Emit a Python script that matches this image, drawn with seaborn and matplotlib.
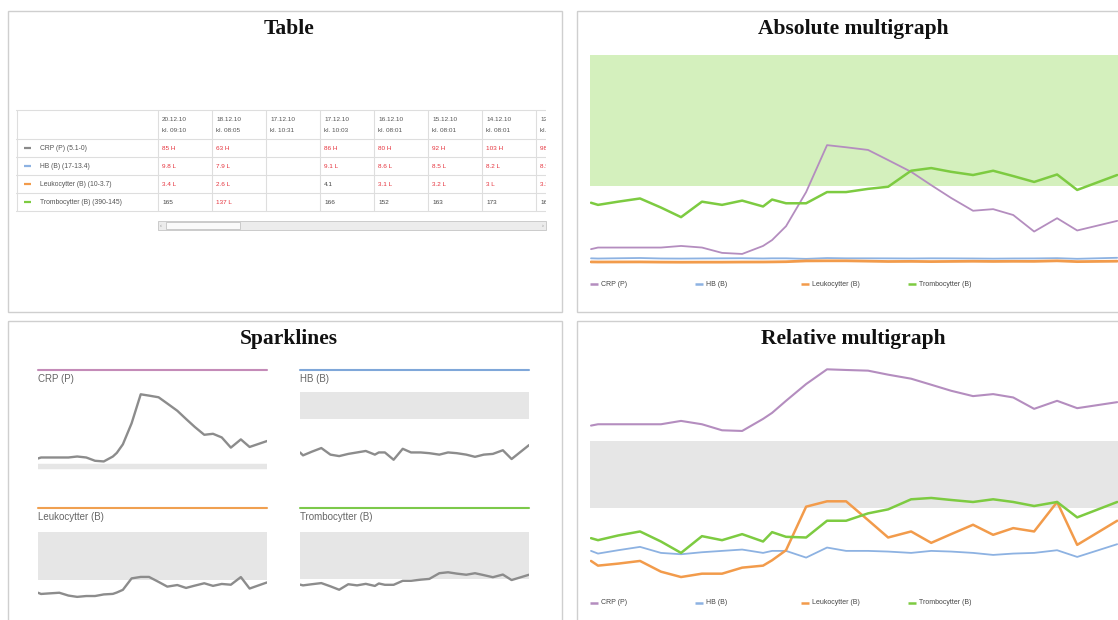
import matplotlib
matplotlib.use("Agg")
import matplotlib.pyplot as plt
import seaborn as sns
import pandas as pd
from matplotlib.patches import Rectangle

sns.set_style("white")
plt.rcParams["font.family"] = ["Liberation Sans", "DejaVu Sans"]

# ---------------- data ----------------
series = ["CRP (P)", "HB (B)", "Leukocytter (B)", "Trombocytter (B)"]
colors = ["#b48dbf", "#8db2e2", "#f29b4b", "#7dcb41"]
header_colors = ["#c48bb8", "#7fa7d9", "#f0a050", "#7cc94a"]
ref_low = [0, 13.4, 3.7, 145]
ref_high = [5.1, 17, 10, 390]

# measurement time, days after first sample
day = [0.0, 0.34, 1.32, 2.39, 3.41, 4.39, 5.41, 6.39, 7.37, 8.39, 8.83, 9.51, 10.49,
       11.51, 12.44, 13.51, 14.49, 15.61, 16.59, 17.56, 18.63, 19.61, 20.59, 21.61,
       22.73, 23.71, 25.66]

crp = [26, 29, 29, 29, 29, 32, 29, 19, 17, 32, 43, 69, 133, 221, 217, 212, 193, 171,
       146, 122, 98, 101, 90, 59, 84, 61, 79]
hb = [8.8, 8.4, 8.9, 9.4, 8.5, 8.3, 8.6, 8.8, 9.0, 8.5, 8.8, 8.8, 7.8, 9.3, 8.8, 8.8,
      8.7, 8.5, 8.8, 8.7, 8.5, 8.2, 8.5, 8.6, 9.1, 7.9, 9.8]
leuko = [2.05, 1.89, 1.97, 2.05, 1.68, 1.51, 1.62, 1.62, 1.83, 1.90, 2.08, 2.43, 3.93,
         4.12, 4.12, 3.47, 2.85, 3.06, 2.68, 2.98, 3.29, 2.95, 3.2, 3.1, 4.1, 2.6, 3.4]
tromb = [113, 109, 115, 121, 104, 86, 115, 109, 117, 106, 119, 112, 112, 133, 133, 139,
         143, 173, 178, 171, 165, 173, 163, 152, 166, 137, 165]

# relative position (0 = lower reference limit, 1 = upper reference limit)
rel_crp = [1.23, 1.25, 1.25, 1.25, 1.25, 1.30, 1.25, 1.16, 1.15, 1.33, 1.42, 1.60, 1.85,
           2.07, 2.06, 2.05, 1.99, 1.93, 1.84, 1.75, 1.67, 1.70, 1.65, 1.48, 1.60, 1.49, 1.58]
rel_hb = [-0.64, -0.68, -0.63, -0.58, -0.67, -0.69, -0.66, -0.64, -0.62, -0.67, -0.64,
          -0.64, -0.74, -0.59, -0.64, -0.64, -0.65, -0.67, -0.64, -0.65, -0.67, -0.70,
          -0.68, -0.67, -0.63, -0.73, -0.54]
rel_leuko = [-0.79, -0.86, -0.83, -0.79, -0.95, -1.03, -0.98, -0.98, -0.89, -0.86, -0.78,
             -0.63, 0.02, 0.10, 0.10, -0.18, -0.44, -0.35, -0.52, -0.39, -0.25, -0.40,
             -0.30, -0.35, 0.09, -0.55, -0.19]
rel_tromb = [-0.45, -0.48, -0.41, -0.35, -0.50, -0.67, -0.42, -0.48, -0.39, -0.50, -0.36,
             -0.43, -0.44, -0.19, -0.19, -0.08, -0.02, 0.13, 0.15, 0.12, 0.09, 0.13, 0.09,
             0.03, 0.09, -0.14, 0.09]

# table
table_dates = ["20.12.10", "18.12.10", "17.12.10", "17.12.10", "16.12.10", "15.12.10",
               "14.12.10", "13.12.10"]
table_times = ["kl. 09:10", "kl. 08:05", "kl. 10:31", "kl. 10:03", "kl. 08:01",
               "kl. 08:01", "kl. 08:01", "kl. 08:01"]
table_rows = ["CRP (P) (5.1-0)", "HB (B) (17-13.4)", "Leukocytter (B) (10-3.7)",
              "Trombocytter (B) (390-145)"]
table_swatch = ["#8a8a8a", "#8db2e2", "#f29b4b", "#7dcb41"]
table_values = [
    ["85 H", "63 H", "", "86 H", "80 H", "92 H", "103 H", "98 H"],
    ["9.8 L", "7.9 L", "", "9.1 L", "8.6 L", "8.5 L", "8.2 L", "8.5 L"],
    ["3.4 L", "2.6 L", "", "4.1", "3.1 L", "3.2 L", "3 L", "3.3 L"],
    ["165", "137 L", "", "166", "152", "163", "173", "165"],
]

abs_values = [crp, hb, leuko, tromb]
rel_values = [rel_crp, rel_hb, rel_leuko, rel_tromb]

# ---------------- layout ----------------
W, H = 1118, 620
fig = plt.figure(figsize=(W / 100, H / 100), dpi=100)
fig.patch.set_facecolor("white")


def rect(x0, y0, x1, y1):
    return [x0 / W, 1 - y1 / H, (x1 - x0) / W, (y1 - y0) / H]


bg = fig.add_axes([0, 0, 1, 1])
bg.set_xlim(0, W)
bg.set_ylim(H, 0)
bg.axis("off")

panels = [(8, 11, 562, 312), (577, 11, 1130, 312), (8, 321, 562, 630), (577, 321, 1130, 630)]
for x0, y0, x1, y1 in panels:
    bg.add_patch(Rectangle((x0, y0), x1 - x0, y1 - y0, fill=False, ec="#cfcfcf", lw=1))

title_kw = dict(ha="center", va="center", family=["Liberation Serif", "DejaVu Serif"],
                weight="bold", fontsize=15.5, color="#111111")
bg.text(289, 29, "Table", **title_kw)
bg.text(853, 29, "Absolute multigraph", **title_kw)
bg.text(289, 339, "Sparklines", **title_kw)
bg.text(853, 339, "Relative multigraph", **title_kw)

# ---------------- table ----------------
tx0, tx1, ty0, ty1 = 16, 546, 108, 214
tab = fig.add_axes(rect(tx0, ty0, tx1, ty1))
tab.set_xlim(tx0, tx1)
tab.set_ylim(ty1, ty0)
tab.axis("off")
row_lines = [110, 139, 157, 175, 193, 211]
col_x0, col_w = 158, 54
line_c = "#dedede"
for y in row_lines:
    tab.plot([16, 560], [y, y], color=line_c, lw=0.8)
tab.plot([16.5, 16.5], [110, 211], color=line_c, lw=0.8)
for i in range(len(table_dates) + 1):
    xx = col_x0 + i * col_w
    tab.plot([xx, xx], [110, 211], color=line_c, lw=0.8)
for i, (d, t) in enumerate(zip(table_dates, table_times)):
    xx = col_x0 + i * col_w + 4
    tab.text(xx, 119, d, fontsize=4.6, color="#555555", va="center", clip_on=True)
    tab.text(xx, 130, t, fontsize=4.6, color="#555555", va="center", clip_on=True)
for r, (lab, sw, vals) in enumerate(zip(table_rows, table_swatch, table_values)):
    yc = (row_lines[r + 1] + row_lines[r + 2]) / 2
    tab.plot([24, 31], [yc, yc], color=sw, lw=1.6, solid_capstyle="butt")
    tab.text(40, yc, lab, fontsize=4.9, color="#555555", va="center")
    for i, v in enumerate(vals):
        flagged = v.endswith("H") or v.endswith("L")
        tab.text(col_x0 + i * col_w + 4, yc, v, fontsize=4.6, va="center", clip_on=True,
                 color="#e5323c" if flagged else "#444444")

# scrollbar
bg.add_patch(Rectangle((158, 221), 388, 9, fc="#ececec", ec="#c4c4c4", lw=0.6))
bg.add_patch(Rectangle((166, 222), 74, 7, fc="#fafafa", ec="#c4c4c4", lw=0.6))
bg.text(161, 225.5, "‹", fontsize=4, color="#888888", ha="center", va="center")
bg.text(543, 225.5, "›", fontsize=4, color="#888888", ha="center", va="center")

# ---------------- multigraph data frames ----------------
long_abs = pd.DataFrame({
    "day": day * 4,
    "value": crp + hb + leuko + tromb,
    "series": sum([[s] * len(day) for s in series], []),
})
long_rel = pd.DataFrame({
    "day": day * 4,
    "value": rel_crp + rel_hb + rel_leuko + rel_tromb,
    "series": sum([[s] * len(day) for s in series], []),
})

# ---------------- absolute multigraph ----------------
ax_abs = fig.add_axes(rect(590, 55, 1118, 266))
ax_abs.set_facecolor("none")
ax_abs.axhspan(ref_low[3], ref_high[3], color="#d4f0bd", lw=0, zorder=0)
for s, c, lw in zip(series, colors, [1.3, 1.3, 2.0, 1.8]):
    sns.lineplot(data=long_abs[long_abs.series == s], x="day", y="value", color=c,
                 lw=lw, ax=ax_abs, legend=False, sort=False, estimator=None)
ax_abs.set_xlim(-0.05, 25.7)
ax_abs.set_ylim(-5.6, 390)
ax_abs.axis("off")

# ---------------- relative multigraph ----------------
ax_rel = fig.add_axes(rect(590, 360, 1118, 585))
ax_rel.set_facecolor("none")
ax_rel.axhspan(0, 1, color="#e6e6e6", lw=0, zorder=0)
for s, c, lw in zip(series, colors, [1.5, 1.3, 1.8, 1.8]):
    sns.lineplot(data=long_rel[long_rel.series == s], x="day", y="value", color=c,
                 lw=lw, ax=ax_rel, legend=False, sort=False, estimator=None)
ax_rel.set_xlim(-0.05, 25.7)
ax_rel.set_ylim(-1.149, 2.209)
ax_rel.axis("off")

# legends
for ly in (284, 603):
    for k, (s, c) in enumerate(zip(series, colors)):
        lx = [590, 695, 801, 908][k]
        bg.plot([lx, lx + 8], [ly, ly], color=c, lw=1.8, solid_capstyle="butt")
        bg.text(lx + 11, ly, s, fontsize=5, color="#444444", va="center")

# ---------------- sparklines ----------------
spark_pos = [(38, 267, 370, 392, 470), (300, 529, 370, 392, 470),
             (38, 267, 508, 532, 600), (300, 529, 508, 532, 600)]
spark_ylim = [(-9, 228), (6.4, 17.06), (1.1, 10), (32, 390)]
for k, (s, hc) in enumerate(zip(series, header_colors)):
    x0, x1, hy, y0, y1 = spark_pos[k]
    bg.plot([x0, x1], [hy, hy], color=hc, lw=1.5)
    bg.text(x0, hy + 9.5, s, fontsize=7, color="#666666", va="center")
    ax = fig.add_axes(rect(x0, y0, x1, y1))
    ax.set_facecolor("none")
    ax.axhspan(ref_low[k], ref_high[k], color="#e6e6e6", lw=2.5 if k == 0 else 0, zorder=0)
    sns.lineplot(x=day, y=abs_values[k], color="#8c8c8c", lw=1.7, ax=ax,
                 legend=False, sort=False, estimator=None)
    ax.set_xlim(0, 25.66)
    ax.set_ylim(*spark_ylim[k])
    ax.axis("off")

fig.savefig("out.png", dpi=100, facecolor="white")
